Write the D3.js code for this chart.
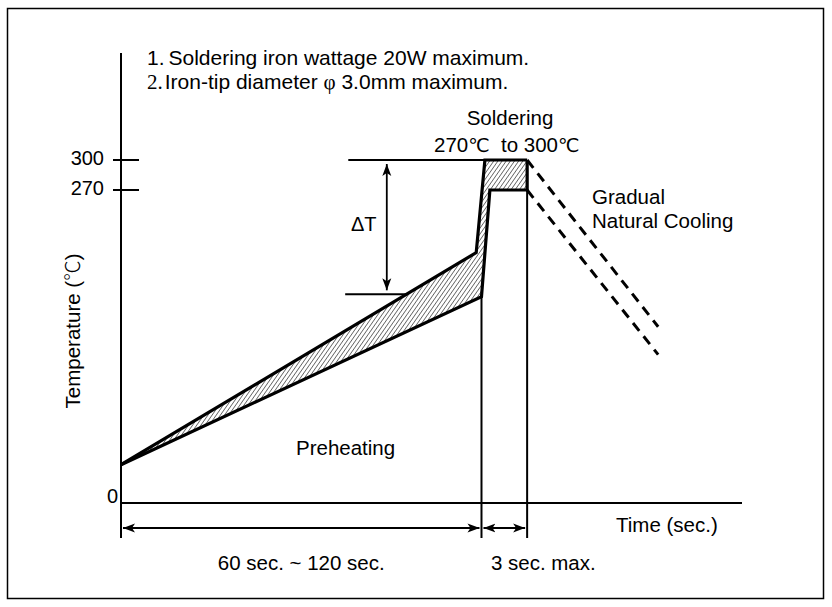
<!DOCTYPE html>
<html><head><meta charset="utf-8">
<script src="https://cdn.jsdelivr.net/npm/d3@7"></script>
<style>
html,body{margin:0;padding:0;background:#fff;}
svg text{font-family:"Liberation Sans",Arial,sans-serif;fill:#000;}
</style></head>
<body><svg id="c" width="832" height="607"></svg>
<script>
// ---- data (schematic time units, temperature in °C) ----
const tempTicks = [300, 270];
const zeroLabel = "0";
// hatched band: upper (outer) boundary and lower (inner) boundary
const upperTime = [0, 57.2, 58.6, 65.4];
const upperTemp = [33, 216, 300, 300];
const lowerTime = [65.4, 59.4, 58.05, 0];
const lowerTemp = [270, 270, 178, 33];
// cooling (dashed)
const coolTime = [65.4, 86.5];
const coolUpperTemp = [300, 152];
const coolLowerTemp = [270, 128];
// stage boundaries
const preheatEnd = 58.05;
const solderEnd = 65.4;
const preheatEndTemp = 178;
// delta-T guide
const deltaTHigh = 300, deltaTLow = 180;
const deltaTLeftHigh = 36.6, deltaTLeftLow = 36.1, deltaTArrowTime = 42.8, deltaTLowRight = 46.2;
const notes = ["1.Soldering iron wattage 20W maximum.", "2.Iron-tip diameter φ 3.0mm maximum."];
const durationLabels = ["60 sec. ~ 120 sec.", "3 sec. max."];

// ---- scales ----
const x = d3.scaleLinear().domain([0, 100]).range([121, 742]);
const y = d3.scaleLinear().domain([0, 270, 300]).range([503, 190, 160]);

const svg = d3.select("#c");
svg.append("rect").attr("width",832).attr("height",607).attr("fill","#fff");
svg.append("rect").attr("x",7.5).attr("y",8.5).attr("width",816).attr("height",590)
  .attr("fill","none").attr("stroke","#000").attr("stroke-width",1.5);

const defs = svg.append("defs");
const pat = defs.append("pattern").attr("id","hatch").attr("patternUnits","userSpaceOnUse")
  .attr("width",3.4).attr("height",3.4).attr("patternTransform","rotate(35)");
pat.append("rect").attr("width",3.4).attr("height",3.4).attr("fill","#fff");
pat.append("line").attr("x1",0).attr("y1",0).attr("x2",0).attr("y2",3.4)
  .attr("stroke","#333").attr("stroke-width",1.3);

const mk = defs.append("marker").attr("id","ah").attr("viewBox","0 -5 12 10")
  .attr("refX",12).attr("refY",0).attr("markerWidth",12).attr("markerHeight",10)
  .attr("markerUnits","userSpaceOnUse").attr("orient","auto-start-reverse");
mk.append("path").attr("d","M0,-4.5L12,0L0,4.5L3,0Z").attr("fill","#000");

const axisBottom = y(0) + 35;

// axes
svg.append("line").attr("x1",x(0)).attr("x2",x(0)).attr("y1",53).attr("y2",axisBottom)
  .attr("stroke","#000").attr("stroke-width",2);
svg.append("line").attr("x1",x(0)).attr("x2",x(100)).attr("y1",y(0)).attr("y2",y(0))
  .attr("stroke","#000").attr("stroke-width",2);

// ticks
tempTicks.forEach(t=>{
  svg.append("line").attr("x1",x(0)-8).attr("x2",x(0)+18).attr("y1",y(t)).attr("y2",y(t))
    .attr("stroke","#000").attr("stroke-width",2);
  svg.append("text").attr("x",x(0)-17).attr("y",y(t)+5).attr("text-anchor","end")
    .attr("font-size",20).text(t);
});
svg.append("text").attr("x",x(0)-3).attr("y",y(0)).attr("text-anchor","end")
  .attr("font-size",20).text(zeroLabel);

// hatched band
const band = upperTime.map((t,i)=>[x(t),y(upperTemp[i])])
  .concat(lowerTime.map((t,i)=>[x(t),y(lowerTemp[i])]));
svg.append("path").attr("d","M"+band.join("L")+"Z").attr("fill","url(#hatch)").attr("stroke","none");

// stage vertical lines
svg.append("line").attr("x1",x(preheatEnd)).attr("x2",x(preheatEnd))
  .attr("y1",y(preheatEndTemp)).attr("y2",axisBottom).attr("stroke","#000").attr("stroke-width",2);
svg.append("line").attr("x1",x(solderEnd)).attr("x2",x(solderEnd))
  .attr("y1",y(300)).attr("y2",axisBottom).attr("stroke","#000").attr("stroke-width",2);

const line = d3.line();
svg.append("path").attr("d",line(upperTime.map((t,i)=>[x(t),y(upperTemp[i])])))
  .attr("fill","none").attr("stroke","#000").attr("stroke-width",3.2).attr("stroke-linejoin","miter");
svg.append("path").attr("d",line(lowerTime.map((t,i)=>[x(t),y(lowerTemp[i])])))
  .attr("fill","none").attr("stroke","#000").attr("stroke-width",3.2).attr("stroke-linejoin","miter");
svg.append("line").attr("x1",x(solderEnd)).attr("x2",x(solderEnd)).attr("y1",y(300)).attr("y2",y(270))
  .attr("stroke","#000").attr("stroke-width",3.2);

// cooling dashed
[coolUpperTemp, coolLowerTemp].forEach(arr=>{
  svg.append("path").attr("d",line(coolTime.map((t,i)=>[x(t),y(arr[i])])))
    .attr("fill","none").attr("stroke","#000").attr("stroke-width",3).attr("stroke-dasharray","10,7");
});

// delta-T
svg.append("line").attr("x1",x(deltaTLeftHigh)).attr("x2",x(upperTime[2])).attr("y1",y(deltaTHigh)).attr("y2",y(deltaTHigh))
  .attr("stroke","#000").attr("stroke-width",2);
svg.append("line").attr("x1",x(deltaTLeftLow)).attr("x2",x(deltaTLowRight)).attr("y1",y(deltaTLow)).attr("y2",y(deltaTLow))
  .attr("stroke","#000").attr("stroke-width",2);
svg.append("line").attr("x1",x(deltaTArrowTime)).attr("x2",x(deltaTArrowTime))
  .attr("y1",y(deltaTHigh)+4).attr("y2",y(deltaTLow)-4)
  .attr("stroke","#000").attr("stroke-width",1.8)
  .attr("marker-start","url(#ah)").attr("marker-end","url(#ah)");
svg.append("text").attr("x",351).attr("y",231).attr("font-size",20).text("ΔT");

// duration arrows
const arrY = y(0) + 25;
[[0,preheatEnd],[preheatEnd,solderEnd]].forEach(([a,b])=>{
  svg.append("line").attr("x1",x(a)+2).attr("x2",x(b)-2).attr("y1",arrY).attr("y2",arrY)
    .attr("stroke","#000").attr("stroke-width",1.8)
    .attr("marker-start","url(#ah)").attr("marker-end","url(#ah)");
});
svg.append("text").attr("x",(x(0)+x(preheatEnd))/2).attr("y",570).attr("text-anchor","middle")
  .attr("font-size",20.5).text(durationLabels[0]);
svg.append("text").attr("x",(x(preheatEnd)+x(solderEnd))/2+39).attr("y",570).attr("text-anchor","middle")
  .attr("font-size",20.5).text(durationLabels[1]);

// labels
svg.append("text").attr("x",616).attr("y",532).attr("font-size",20.5).text("Time (sec.)");
svg.append("text").attr("x",296).attr("y",455).attr("font-size",20.5).text("Preheating");
svg.append("text").attr("x",510).attr("y",125).attr("text-anchor","middle").attr("font-size",20.5).text("Soldering");
const sr = svg.append("text").attr("x",434).attr("y",152).attr("font-size",20.5);
sr.append("tspan").text("270");
sr.append("tspan").attr("font-family","'DejaVu Sans'").attr("font-size",19).text("℃");
sr.append("tspan").text("  to 300").attr("xml:space","preserve");
sr.append("tspan").attr("font-family","'DejaVu Sans'").attr("font-size",19).text("℃");
svg.append("text").attr("x",592).attr("y",204).attr("font-size",20.5).text("Gradual");
svg.append("text").attr("x",592).attr("y",228).attr("font-size",20.5).text("Natural Cooling");

const tl = svg.append("text").attr("transform","translate(80,331) rotate(-90)").attr("text-anchor","middle").attr("font-size",20.5);
tl.append("tspan").text("Temperature (");
tl.append("tspan").attr("font-family","'Noto Sans CJK JP'").attr("font-weight",300).text("℃");
tl.append("tspan").text(")");

// notes
const n1 = svg.append("text").attr("x",147).attr("y",65).attr("font-size",21);
n1.append("tspan").text(notes[0].slice(0,2));
n1.append("tspan").attr("dx",4).text(notes[0].slice(2));
const n2 = svg.append("text").attr("x",147).attr("y",89).attr("font-size",21);
n2.append("tspan").attr("font-family","'Liberation Serif',serif").text(notes[1].slice(0,2));
const rest = notes[1].slice(2);
const phiIdx = rest.indexOf("φ");
n2.append("tspan").attr("dx",2).text(rest.slice(0,phiIdx));
n2.append("tspan").attr("font-family","'Liberation Serif',serif").text("φ");
n2.append("tspan").text(rest.slice(phiIdx+1));
</script></body></html>
